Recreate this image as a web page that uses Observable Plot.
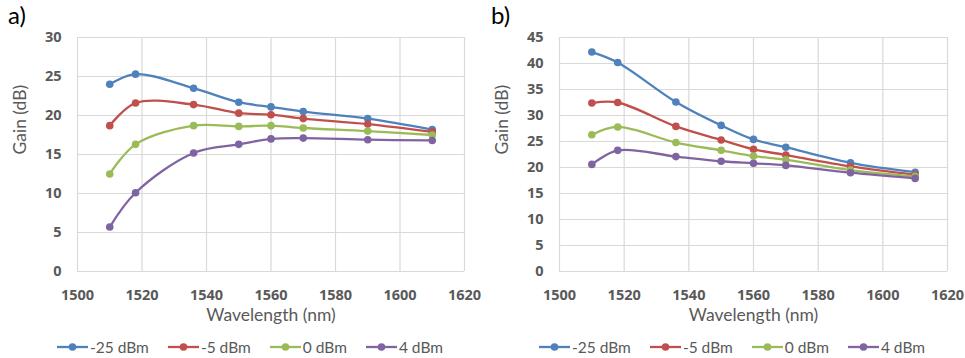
<!DOCTYPE html>
<html>
<head>
<meta charset="utf-8">
<script src="https://cdn.jsdelivr.net/npm/d3@7"></script>
<script src="https://cdn.jsdelivr.net/npm/@observablehq/plot@0.6"></script>
<style>
  body { margin: 0; background: #fff; font-family: Lato, "Open Sans", sans-serif; }
  #wrap { position: relative; width: 965px; height: 358px; overflow: hidden; background: #fff; }
  .panel { position: absolute; top: 0; }
  .tag { position: absolute; top: 3px; font-size: 24px; color: #000; line-height: 1; }
  .legend { position: absolute; top: 338px; display: flex; gap: 19px; align-items: center;
            font-size: 15.5px; color: #595959; white-space: nowrap; }
  .item { display: flex; align-items: center; }
  .item svg { display: block; margin-right: 2px; }
</style>
</head>
<body>
<div id="wrap"></div>
<script>
// ---- data ----
const wavelengths = [1510, 1518, 1536, 1550, 1560, 1570, 1590, 1610];
const seriesNames = ["-25 dBm", "-5 dBm", "0 dBm", "4 dBm"];
const seriesColors = ["#4F81BD", "#C0504D", "#9BBB59", "#8064A2"];

// panel a)
const gainA_m25 = [24.0, 25.3, 23.5, 21.7, 21.1, 20.5, 19.6, 18.2];
const gainA_m5  = [18.7, 21.6, 21.4, 20.3, 20.1, 19.6, 18.9, 17.9];
const gainA_0   = [12.5, 16.3, 18.7, 18.6, 18.7, 18.4, 18.0, 17.5];
const gainA_4   = [5.7, 10.1, 15.2, 16.3, 17.0, 17.1, 16.9, 16.8];

// panel b)
const gainB_m25 = [42.2, 40.2, 32.6, 28.1, 25.4, 23.9, 20.9, 19.1];
const gainB_m5  = [32.4, 32.5, 27.9, 25.3, 23.5, 22.4, 20.2, 18.6];
const gainB_0   = [26.3, 27.8, 24.8, 23.3, 22.2, 21.5, 19.5, 18.3];
const gainB_4   = [20.6, 23.3, 22.1, 21.2, 20.8, 20.4, 19.0, 17.9];

const xTicks = [1500, 1520, 1540, 1560, 1580, 1600, 1620];
const yTicksA = [0, 5, 10, 15, 20, 25, 30];
const yTicksB = [0, 5, 10, 15, 20, 25, 30, 35, 40, 45];

const xLabel = "Wavelength (nm)";
const yLabel = "Gain (dB)";

// ---- build ----
function rowsOf(seriesArrays) {
  return seriesArrays.flatMap((vals, i) =>
    vals.map((g, j) => ({ series: seriesNames[i], wl: wavelengths[j], gain: g })));
}

function makePlot(rows, yTicks, width, marginLeft, marginRight) {
  const grid = "#d9d9d9";
  const tickFont = "'Open Sans', Lato, sans-serif";
  return Plot.plot({
    width, height: 330,
    marginLeft, marginRight, marginTop: 37, marginBottom: 59,
    style: { fontFamily: "Lato, 'Open Sans', sans-serif", color: "#595959", background: "transparent", overflow: "visible" },
    x: { domain: [xTicks[0], xTicks[xTicks.length - 1]] },
    y: { domain: [yTicks[0], yTicks[yTicks.length - 1]] },
    color: { domain: seriesNames, range: seriesColors },
    marks: [
      Plot.gridX(xTicks, { stroke: grid, strokeOpacity: 1, strokeWidth: 1.2 }),
      Plot.gridY(yTicks, { stroke: grid, strokeOpacity: 1, strokeWidth: 1.2 }),
      Plot.axisX(xTicks, { tickSize: 0, tickPadding: 18, fontSize: 14.5, fontWeight: "bold", fontFamily: tickFont, fill: "#595959", label: null, tickFormat: d => String(d) }),
      Plot.axisY(yTicks, { tickSize: 0, tickPadding: 16, fontSize: 14.5, fontWeight: "bold", fontFamily: tickFont, fill: "#595959", label: null }),
      Plot.line(rows, { x: "wl", y: "gain", z: "series", stroke: "series", curve: "catmull-rom", strokeWidth: 2.3 }),
      Plot.dot(rows, { x: "wl", y: "gain", fill: "series", r: 3.8 }),
      Plot.text([xLabel], { frameAnchor: "bottom", dy: 49, fontSize: 17.5, fill: "#595959" }),
      Plot.text([yLabel], { frameAnchor: "left", dx: -57, rotate: -90, fontSize: 17.5, fill: "#595959" })
    ]
  });
}

function makeLegend(left) {
  const div = document.createElement("div");
  div.className = "legend";
  div.style.left = left + "px";
  seriesNames.forEach((name, i) => {
    const item = document.createElement("div");
    item.className = "item";
    const c = seriesColors[i];
    item.innerHTML = `<svg width="31" height="12"><line x1="0" x2="31" y1="6" y2="6" stroke="${c}" stroke-width="2.3"/><circle cx="15.5" cy="6" r="3.8" fill="${c}"/></svg><span>${name}</span>`;
    div.appendChild(item);
  });
  return div;
}

const wrap = document.getElementById("wrap");

const panelA = document.createElement("div");
panelA.className = "panel"; panelA.style.left = "0px";
panelA.appendChild(makePlot(rowsOf([gainA_m25, gainA_m5, gainA_0, gainA_4]), yTicksA, 480, 77, 16));
wrap.appendChild(panelA);

const panelB = document.createElement("div");
panelB.className = "panel"; panelB.style.left = "480px";
panelB.appendChild(makePlot(rowsOf([gainB_m25, gainB_m5, gainB_0, gainB_4]), yTicksB, 485, 79, 18));
wrap.appendChild(panelB);

const tagA = document.createElement("div");
tagA.className = "tag"; tagA.style.left = "8px"; tagA.textContent = "a)";
wrap.appendChild(tagA);
const tagB = document.createElement("div");
tagB.className = "tag"; tagB.style.left = "491px"; tagB.textContent = "b)";
wrap.appendChild(tagB);

wrap.appendChild(makeLegend(57));
wrap.appendChild(makeLegend(539));
</script>
</body>
</html>
